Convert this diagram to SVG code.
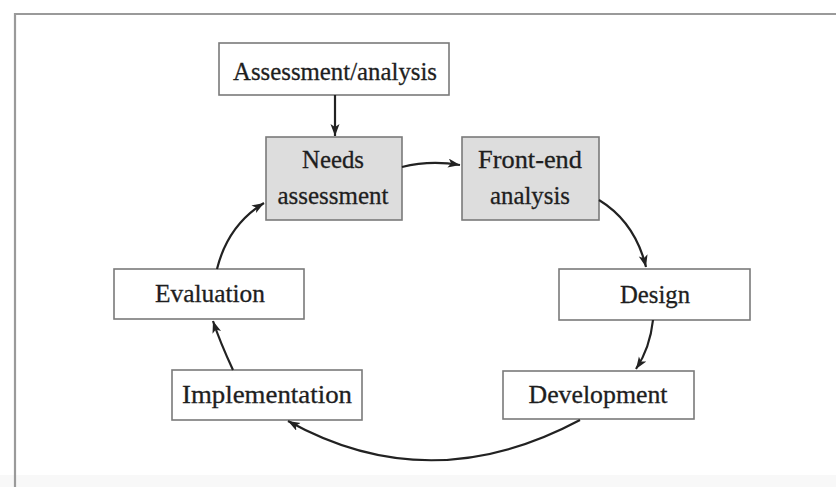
<svg xmlns="http://www.w3.org/2000/svg" width="836" height="487" viewBox="0 0 836 487">
  <style>
    .box { fill: #ffffff; stroke: #7a7a7a; stroke-width: 1.6; }
    .shaded { fill: #dddddd; }
    .label { font-family: "Liberation Serif", "Times New Roman", serif; font-size: 25px; fill: #1e1e1e; stroke: #1e1e1e; stroke-width: 0.3; text-anchor: middle; }
    .link { fill: none; stroke: #222222; stroke-width: 2.2; marker-end: url(#arrow); }
  </style>
  <defs>
    <marker id="arrow" markerUnits="userSpaceOnUse" markerWidth="13" markerHeight="10" refX="12" refY="4.5" orient="auto">
      <path d="M0 0 L12 4.5 L0 9 L3 4.5 Z" fill="#222222"/>
    </marker>
  </defs>

  <!-- page background and frame -->
  <rect x="0" y="0" width="836" height="487" fill="#ffffff"/>
  <rect x="0" y="475" width="836" height="12" fill="#f8f8f8"/>
  <path d="M15 487 V14 H836" fill="none" stroke="#9a9a9a" stroke-width="2.2"/>

  <g id="assessment-analysis">
    <rect class="box" x="219" y="43" width="230" height="52"/>
    <text class="label" x="335" y="80" textLength="204" lengthAdjust="spacingAndGlyphs">Assessment/analysis</text>
  </g>

  <g id="needs-assessment">
    <rect class="box shaded" x="266" y="137" width="136" height="83"/>
    <text class="label" x="333" y="168" textLength="62" lengthAdjust="spacingAndGlyphs">Needs</text>
    <text class="label" x="333" y="204" textLength="111" lengthAdjust="spacingAndGlyphs">assessment</text>
  </g>

  <g id="front-end-analysis">
    <rect class="box shaded" x="462" y="137" width="137" height="83"/>
    <text class="label" x="530" y="168" textLength="104" lengthAdjust="spacingAndGlyphs">Front-end</text>
    <text class="label" x="530" y="204" textLength="80" lengthAdjust="spacingAndGlyphs">analysis</text>
  </g>

  <g id="design">
    <rect class="box" x="559" y="269" width="191" height="51"/>
    <text class="label" x="655" y="303" textLength="70" lengthAdjust="spacingAndGlyphs">Design</text>
  </g>

  <g id="development">
    <rect class="box" x="503" y="371" width="191" height="48"/>
    <text class="label" x="598" y="403" textLength="139" lengthAdjust="spacingAndGlyphs">Development</text>
  </g>

  <g id="implementation">
    <rect class="box" x="172" y="370" width="190" height="50"/>
    <text class="label" x="267" y="403" textLength="170" lengthAdjust="spacingAndGlyphs">Implementation</text>
  </g>

  <g id="evaluation">
    <rect class="box" x="114" y="269" width="190" height="50"/>
    <text class="label" x="210" y="302" textLength="110" lengthAdjust="spacingAndGlyphs">Evaluation</text>
  </g>

  <g id="connectors">
    <path class="link" d="M335 95 L335 136"/>
    <path class="link" d="M402 167 Q430 160 460 165"/>
    <path class="link" d="M599 200 Q635 222 646 267"/>
    <path class="link" d="M653 320 Q650 348 636 369"/>
    <path class="link" d="M580 420 Q430 500 288 421"/>
    <path class="link" d="M233 370 Q220 342 213 321"/>
    <path class="link" d="M217 269 Q228 225 264 203"/>
  </g>
</svg>
